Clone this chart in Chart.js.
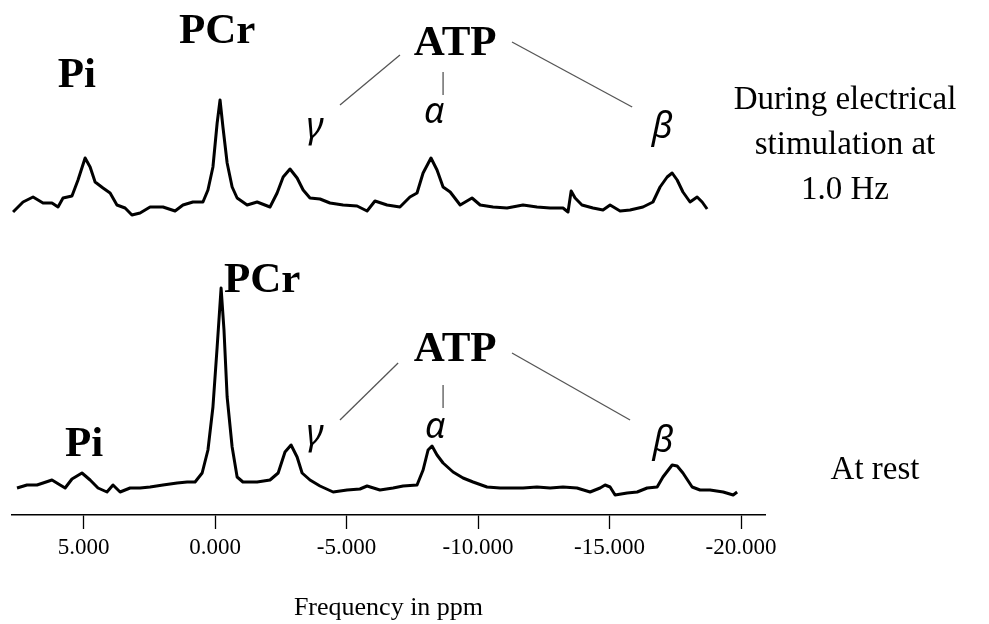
<!DOCTYPE html>
<html>
<head>
<meta charset="utf-8">
<script src="https://cdn.jsdelivr.net/npm/chart.js@4"></script>
<style>
  html, body { margin: 0; padding: 0; background: #fff; }
  #wrap { width: 989px; height: 624px; }
</style>
</head>
<body>
<div id="wrap"><canvas id="spectrum"></canvas></div>
<script>
// 31P spectrum during stimulation at 1.0 Hz (top trace), ppm and signal
var stimPpm = [7.68, 7.30, 6.92, 6.54, 6.20, 5.97, 5.78, 5.44, 5.21, 4.94, 4.75, 4.56, 4.26, 3.99,
  3.73, 3.42, 3.16, 2.85, 2.47, 1.98, 1.52, 1.22, 0.84, 0.46, 0.27, 0.08, -0.08, -0.19, -0.30,
  -0.46, -0.65, -0.84, -1.22, -1.60, -2.09, -2.36, -2.59, -2.85, -3.12, -3.35, -3.61, -3.99,
  -4.37, -4.87, -5.40, -5.78, -6.08, -6.54, -7.03, -7.41, -7.68, -7.91, -8.21, -8.44, -8.67,
  -8.94, -9.32, -9.77, -10.08, -10.57, -11.10, -11.71, -12.24, -12.74, -13.23, -13.42, -13.54,
  -13.69, -13.95, -14.37, -14.75, -15.02, -15.40, -15.78, -16.27, -16.65, -16.92, -17.19,
  -17.38, -17.57, -17.79, -18.06, -18.33, -18.52, -18.71];
var stimSignal = [-2, 8, 13, 7, 7, 3, 12, 14, 30, 52, 43, 28, 22, 17,
  5, 2, -5, -3, 3, 3, -1, 5, 8, 8, 20, 43, 87, 110, 83,
  47, 23, 12, 5, 8, 3, 17, 33, 41, 32, 20, 12, 11,
  7, 5, 4, -1, 9, 5, 3, 13, 17, 37, 52, 40, 23,
  18, 5, 12, 5, 3, 2, 5, 3, 2, 2, -2, 19,
  12, 5, 2, 0, 5, -1, 0, 3, 8, 23, 33,
  37, 30, 18, 8, 13, 8, 1];

// 31P spectrum at rest (bottom trace)
var restPpm = [7.53, 7.15, 6.77, 6.54, 6.20, 5.89, 5.70, 5.44, 5.06, 4.75, 4.45, 4.11, 3.88, 3.61,
  3.23, 2.85, 2.47, 1.98, 1.44, 1.06, 0.76, 0.49, 0.27, 0.08, -0.08, -0.23, -0.34, -0.46,
  -0.65, -0.84, -1.06, -1.60, -2.09, -2.40, -2.66, -2.89, -3.12, -3.31, -3.61, -3.99, -4.49,
  -5.02, -5.51, -5.78, -6.27, -6.77, -7.15, -7.68, -7.91, -8.10, -8.25, -8.44, -8.67, -9.05,
  -9.43, -9.81, -10.34, -10.84, -11.22, -11.71, -12.24, -12.74, -13.23, -13.76, -14.26,
  -14.64, -14.83, -15.02, -15.21, -15.67, -16.05, -16.43, -16.81, -17.03, -17.38, -17.57,
  -17.79, -18.14, -18.44, -18.82, -19.32, -19.70, -19.85];
var restSignal = [0, 3, 3, 5, 8, 3, 0, 9, 15, 8, 0, -4, 3, -4,
  0, 0, 1, 3, 5, 6, 6, 15, 38, 81, 141, 200, 158, 91,
  41, 11, 6, 6, 8, 15, 36, 43, 31, 15, 8, 2, -4,
  -2, -1, 2, -2, 0, 2, 3, 18, 38, 42, 33, 25, 16,
  10, 6, 1, 0, 0, 0, 1, 0, 1, 0, -4,
  0, 3, 1, -7, -5, -4, 0, 1, 11, 23, 22,
  15, 1, -2, -2, -4, -7, -4];

var tickValues = [5, 0, -5, -10, -15, -20];
var peakNames = ["Pi", "PCr", "ATP"];
var atpNames = ["γ", "α", "β"];
var conditionText = [["During electrical", "stimulation at", "1.0 Hz"], ["At rest"]];

function toPoints(xs, ys) {
  return xs.map((x, i) => ({ x: x, y: ys[i] }));
}

// labels, ATP connectors and condition text
var annotate = {
  id: "annotate",
  afterDatasetsDraw(chart) {
    var ctx = chart.ctx;
    var x = chart.scales.x;
    var traces = [
      { y: chart.scales.yTop, pi: [5.25, 134], pcr: [-0.08, 178], atp: [-9.13, 166],
        greek: [[-3.80, 82], [-8.33, 97], [-17.0, 82]],
        lines: [[-7.03, 155, -4.75, 105], [-8.67, 138, -8.67, 115], [-11.29, 168, -15.86, 103]] },
      { y: chart.scales.yBot, pi: [4.98, 43], pcr: [-1.79, 207], atp: [-9.13, 138],
        greek: [[-3.80, 53], [-8.37, 60], [-17.03, 46]],
        lines: [[-6.96, 125, -4.75, 68], [-8.67, 103, -8.67, 80], [-11.29, 135, -15.78, 68]] },
    ];
    ctx.save();
    ctx.textAlign = "center";
    ctx.textBaseline = "middle";
    ctx.fillStyle = "#000";
    traces.forEach((t) => {
      ctx.font = "bold 43px 'Liberation Serif'";
      [t.pi, t.pcr, t.atp].forEach((p, i) => {
        ctx.fillText(peakNames[i], x.getPixelForValue(p[0]), t.y.getPixelForValue(p[1]));
      });
      ctx.font = "italic 36px 'Noto Sans'";
      t.greek.forEach((p, i) => {
        ctx.fillText(atpNames[i], x.getPixelForValue(p[0]), t.y.getPixelForValue(p[1]));
      });
      ctx.strokeStyle = "#555";
      ctx.lineWidth = 1.3;
      t.lines.forEach((l) => {
        ctx.beginPath();
        ctx.moveTo(x.getPixelForValue(l[0]), t.y.getPixelForValue(l[1]));
        ctx.lineTo(x.getPixelForValue(l[2]), t.y.getPixelForValue(l[3]));
        ctx.stroke();
      });
    });

    ctx.font = "33px 'Liberation Serif'";
    var cx = chart.chartArea.right + 80;
    conditionText[0].forEach((s, i) => {
      ctx.fillText(s, cx, chart.scales.yTop.getPixelForValue(110 - i * 45));
    });
    ctx.fillText(conditionText[1][0], cx + 30, chart.scales.yBot.getPixelForValue(18));
    ctx.restore();
  },
};

new Chart(document.getElementById("spectrum"), {
  type: "line",
  data: {
    datasets: [
      { label: "stimulation", data: toPoints(stimPpm, stimSignal), yAxisID: "yTop" },
      { label: "rest", data: toPoints(restPpm, restSignal), yAxisID: "yBot" },
    ],
  },
  options: {
    responsive: true,
    maintainAspectRatio: false,
    animation: false,
    layout: { padding: { left: 12, right: 224, top: 0, bottom: 0 } },
    elements: {
      point: { radius: 0 },
      line: { borderColor: "#000", borderWidth: 3, tension: 0, borderJoinStyle: "round" },
    },
    plugins: { legend: { display: false }, tooltip: { enabled: false } },
    scales: {
      x: {
        type: "linear",
        reverse: true,
        min: -20.91,
        max: 7.72,
        afterBuildTicks: (scale) => {
          scale.ticks = tickValues.map((v) => ({ value: v }));
        },
        afterFit: (scale) => {
          scale.height = 109;
        },
        border: { color: "#000", width: 1.5 },
        grid: { drawOnChartArea: false, color: "#000", tickLength: 14, tickWidth: 1.3 },
        ticks: {
          color: "#000",
          autoSkip: false,
          maxRotation: 0,
          padding: 5,
          font: { family: "'Liberation Serif'", size: 23 },
          callback: (v) => v.toFixed(3),
        },
        title: {
          display: true,
          text: "Frequency in ppm",
          color: "#000",
          padding: { top: 0, bottom: 0 },
          font: { family: "'Liberation Serif'", size: 26 },
        },
      },
      yTop: { display: false, min: -305, max: 210 },
      yBot: { display: false, min: -27, max: 488 },
    },
  },
  plugins: [annotate],
});
</script>
</body>
</html>
